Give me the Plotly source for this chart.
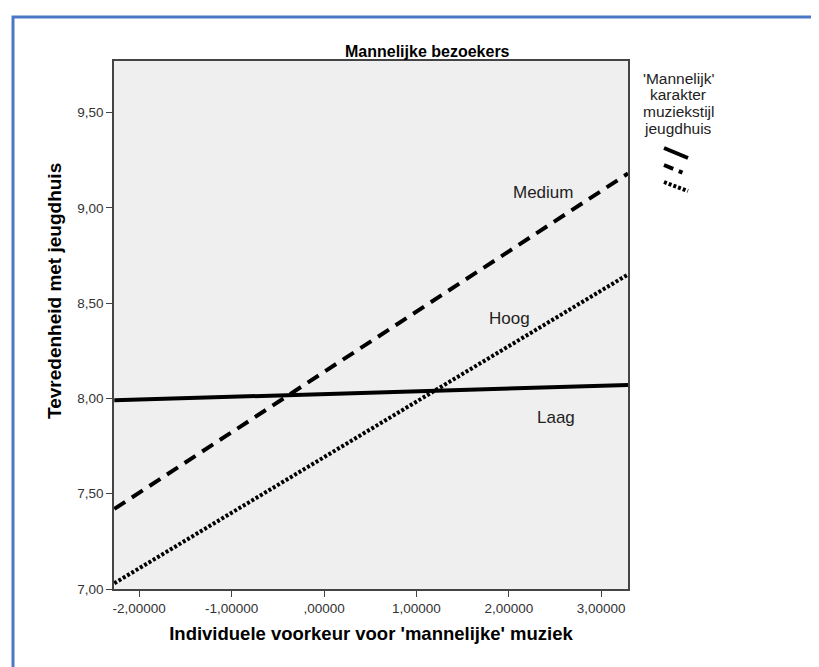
import plotly.graph_objects as go

# regression lines (endpoints)
x_vals = [-2.27, 3.29]
laag = [7.99, 8.07]
medium = [7.42, 9.18]
hoog = [7.03, 8.65]

x_ticks = [-2, -1, 0, 1, 2, 3]
x_ticktext = ["-2,00000", "-1,00000", ",00000", "1,00000", "2,00000", "3,00000"]
y_ticks = [7.0, 7.5, 8.0, 8.5, 9.0, 9.5]
y_ticktext = ["7,00", "7,50", "8,00", "8,50", "9,00", "9,50"]

legend_title = ["'Mannelijk'", "karakter", "muziekstijl", "jeugdhuis"]

W, H = 819, 667
L, R, T, B = 106, 199, 53, 86
PW, PH = W - L - R, H - T - B


def px(p):
    return (p - L) / PW


def py(p):
    return 1 - (p - T) / PH


FONT = "Liberation Sans, Arial, sans-serif"

fig = go.Figure()

fig.add_trace(go.Scatter(x=x_vals, y=laag, mode="lines", name="Laag",
                         line=dict(color="black", width=4)))
fig.add_trace(go.Scatter(x=x_vals, y=medium, mode="lines", name="Medium",
                         line=dict(color="black", width=4, dash="13px,8px")))
fig.add_trace(go.Scatter(x=x_vals, y=hoog, mode="lines", name="Hoog",
                         line=dict(color="black", width=4, dash="3px,2px")))

# line labels
labels = [("Medium", 2.37, 9.08), ("Hoog", 2.01, 8.42), ("Laag", 2.51, 7.90)]
for txt, lx, ly in labels:
    fig.add_annotation(x=lx, y=ly, text=txt, showarrow=False,
                       font=dict(family=FONT, size=17, color="#222"))

# chart title
fig.add_annotation(xref="paper", yref="paper", x=px(419), y=py(44), yanchor="middle",
                   text="<b>Mannelijke bezoekers</b>", showarrow=False,
                   font=dict(family=FONT, size=16, color="black"))

# y axis title (placed by hand, SPSS does not centre it on the plot)
fig.add_annotation(xref="paper", yref="paper", x=px(46), y=py(283), xanchor="center", yanchor="middle",
                   text="<b>Tevredenheid met jeugdhuis</b>", textangle=-90, showarrow=False,
                   font=dict(family=FONT, size=19, color="black"))

# legend title, one line at a time for the tight spacing
for i, line in enumerate(legend_title):
    fig.add_annotation(xref="paper", yref="paper", x=px(670), y=py(70 + i * 16.7),
                       xanchor="center", yanchor="middle", text=line, showarrow=False,
                       font=dict(family=FONT, size=15.5, color="#222"))

shapes = [
    # legend symbols
    dict(type="line", xref="paper", yref="paper", x0=px(656), y0=py(140), x1=px(680), y1=py(150),
         line=dict(color="black", width=4)),
    dict(type="line", xref="paper", yref="paper", x0=px(656), y0=py(157), x1=px(680), y1=py(167),
         line=dict(color="black", width=4, dash="10px,6px,4px")),
    dict(type="line", xref="paper", yref="paper", x0=px(656), y0=py(174), x1=px(680), y1=py(183),
         line=dict(color="black", width=4, dash="3px,2px")),
    # blue frame round the picture
    dict(type="rect", xref="paper", yref="paper", x0=px(5), y0=py(9), x1=px(814), y1=py(700),
         line=dict(color="#4a78c6", width=3), fillcolor="rgba(0,0,0,0)"),
]

fig.update_layout(
    width=W, height=H,
    margin=dict(l=L, r=R, t=T, b=B),
    paper_bgcolor="white",
    plot_bgcolor="#efefef",
    showlegend=False,
    shapes=shapes,
    font=dict(family=FONT, color="#333"),
)

fig.update_xaxes(
    range=[-2.273, 3.29], tickvals=x_ticks, ticktext=x_ticktext,
    showgrid=False, zeroline=False, showline=True, mirror=True,
    linecolor="#444", linewidth=1.5, ticks="outside", ticklen=6, tickcolor="#444",
    tickfont=dict(family=FONT, size=13.5, color="#333"),
    title=dict(text="<b>Individuele voorkeur voor 'mannelijke' muziek</b>",
               font=dict(family=FONT, size=18.5, color="black"), standoff=12),
)
fig.update_yaxes(
    range=[7.0, 9.77], tickvals=y_ticks, ticktext=y_ticktext,
    showgrid=False, zeroline=False, showline=True, mirror=True,
    linecolor="#444", linewidth=1.5, ticks="outside", ticklen=6, tickcolor="#444",
    tickfont=dict(family=FONT, size=13.5, color="#333"),
)

fig.write_html("out.html")
